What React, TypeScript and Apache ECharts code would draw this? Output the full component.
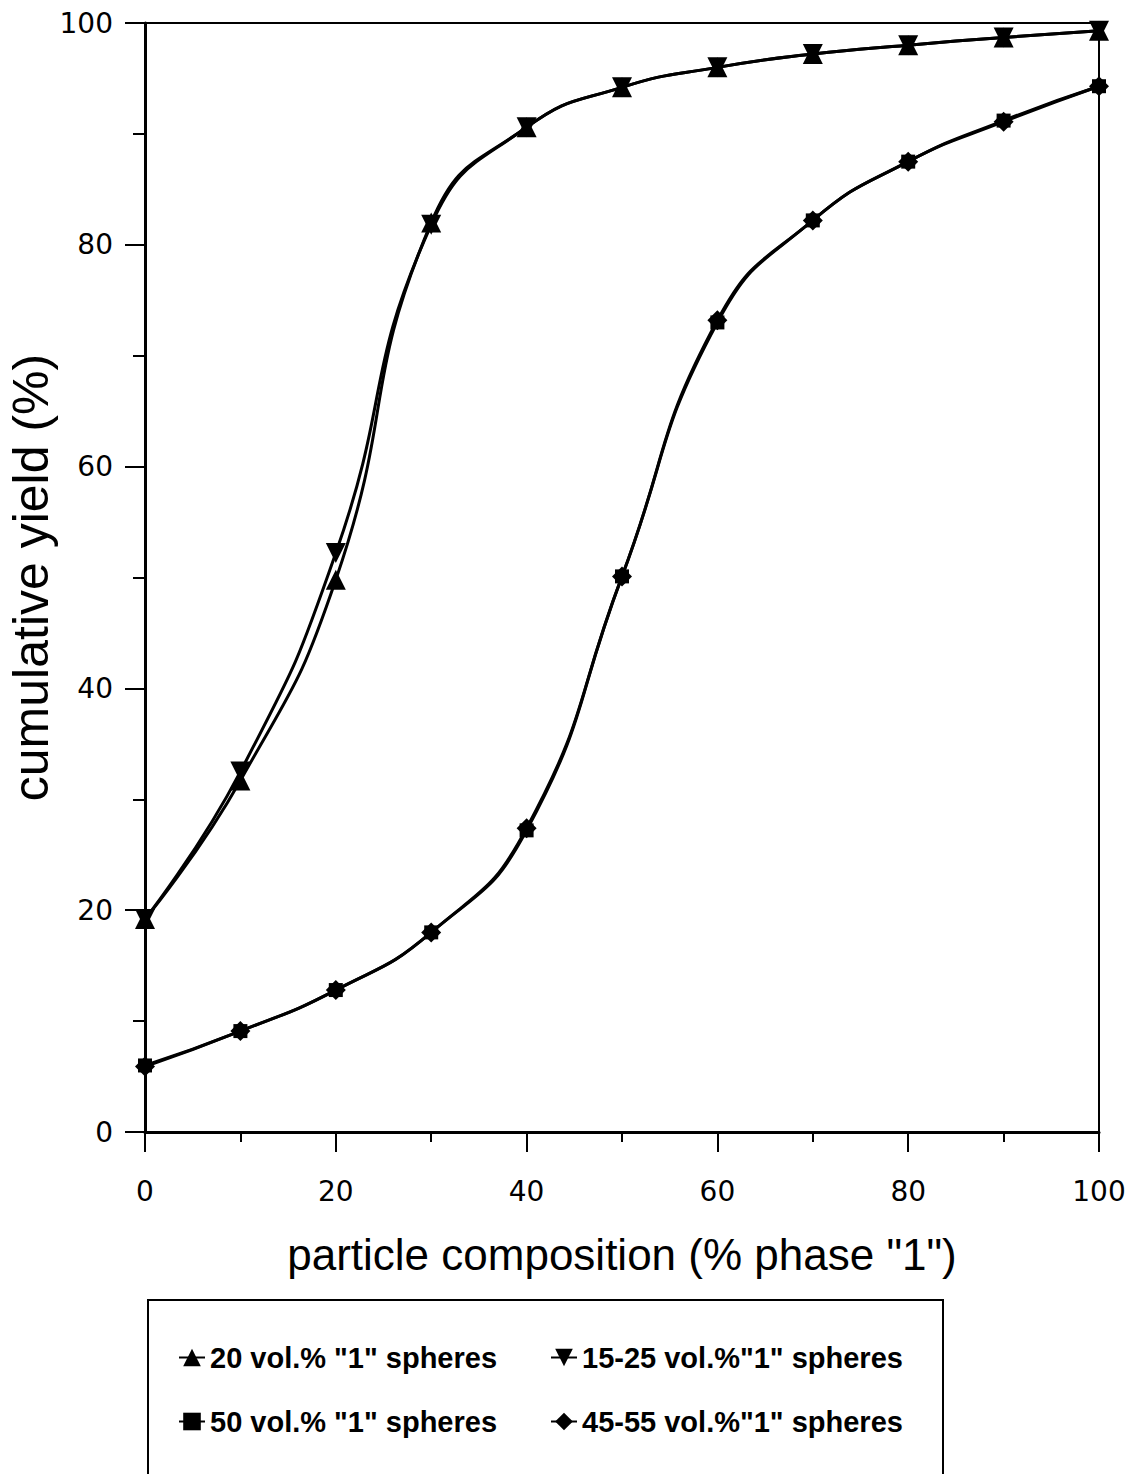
import React, { useEffect, useRef } from "react";
import * as echarts from "echarts";

const xValues = [0, 10, 20, 30, 40, 50, 60, 70, 80, 90, 100];
const yield20 = [19.2, 31.7, 49.8, 82.0, 90.6, 94.2, 96.0, 97.2, 98.0, 98.7, 99.3];
const yield15to25 = [19.2, 32.5, 52.2, 81.8, 90.6, 94.2, 96.0, 97.2, 98.0, 98.7, 99.3];
const yield50 = [6.0, 9.1, 12.8, 18.0, 27.2, 50.1, 73.0, 82.2, 87.5, 91.2, 94.3];
const yield45to55 = [5.9, 9.1, 12.8, 18.0, 27.4, 50.1, 73.2, 82.2, 87.5, 91.1, 94.3];

const seriesNames = [
  '20 vol.% "1" spheres',
  '15-25 vol.%"1" spheres',
  '50 vol.% "1" spheres',
  '45-55 vol.%"1" spheres',
];

const pairs = (ys: number[]) => xValues.map((x, i) => [x, ys[i]]);

export default function App() {
  const ref = useRef<HTMLDivElement>(null);
  useEffect(() => {
    document.body.style.margin = "0";
    const chart = echarts.init(ref.current!, null, { renderer: "svg" });
    const axisFont = "DejaVu Sans";
    const titleFont = "Liberation Sans";
    const lineBase = {
      type: "line" as const,
      smooth: 0.5,
      lineStyle: { color: "#000", width: 3 },
      itemStyle: { color: "#000" },
      z: 3,
    };
    const legendText = {
      color: "#000",
      fontFamily: titleFont,
      fontSize: 29,
      fontWeight: "bold" as const,
    };
    const legendCommon = {
      itemWidth: 26,
      itemHeight: 22,
      itemGap: 4,
      textStyle: legendText,
      selectedMode: false,
      padding: 0,
    };
    chart.setOption({
      animation: false,
      backgroundColor: "#fff",
      grid: {
        left: 145,
        right: 32,
        top: 23,
        bottom: 342,
        show: true,
        borderColor: "#000",
        borderWidth: 2,
        backgroundColor: "transparent",
        containLabel: false,
        outerBoundsMode: "none",
      },
      xAxis: {
        type: "value",
        min: 0,
        max: 100,
        interval: 20,
        name: 'particle composition (% phase "1")',
        nameLocation: "middle",
        nameGap: 100,
        nameMoveOverlap: false,
        nameTextStyle: { color: "#000", fontFamily: titleFont, fontSize: 44 },
        axisLine: { lineStyle: { color: "#000", width: 3 } },
        axisTick: { show: true, length: 20, lineStyle: { color: "#000", width: 2 } },
        minorTick: { show: true, splitNumber: 2, length: 10, lineStyle: { color: "#000", width: 2 } },
        axisLabel: { color: "#000", fontFamily: axisFont, fontSize: 28, margin: 45 },
        splitLine: { show: false },
      },
      yAxis: {
        type: "value",
        min: 0,
        max: 100,
        interval: 20,
        name: "cumulative yield (%)",
        nameLocation: "middle",
        nameGap: 89,
        nameMoveOverlap: false,
        nameTextStyle: { color: "#000", fontFamily: titleFont, fontSize: 50 },
        axisLine: { lineStyle: { color: "#000", width: 3 } },
        axisTick: { show: true, length: 20, lineStyle: { color: "#000", width: 2 } },
        minorTick: { show: true, splitNumber: 2, length: 12, lineStyle: { color: "#000", width: 2 } },
        axisLabel: { color: "#000", fontFamily: axisFont, fontSize: 28, margin: 32 },
        splitLine: { show: false },
      },
      legend: [
        { ...legendCommon, data: [seriesNames[0]], left: 178, top: 1343 },
        { ...legendCommon, data: [seriesNames[1]], left: 550, top: 1343 },
        { ...legendCommon, data: [seriesNames[2]], left: 178, top: 1407 },
        { ...legendCommon, data: [seriesNames[3]], left: 550, top: 1407 },
      ],
      graphic: [
        {
          type: "rect",
          shape: { x: 148, y: 1300, width: 795, height: 200 },
          style: { fill: "none", stroke: "#000", lineWidth: 2 },
          silent: true,
        },
      ],
      series: [
        { ...lineBase, name: seriesNames[0], data: pairs(yield20), symbol: "triangle", symbolSize: 20 },
        {
          ...lineBase,
          name: seriesNames[1],
          data: pairs(yield15to25),
          symbol: "triangle",
          symbolRotate: 180,
          symbolSize: 20,
        },
        { ...lineBase, name: seriesNames[2], data: pairs(yield50), symbol: "rect", symbolSize: 14 },
        { ...lineBase, name: seriesNames[3], data: pairs(yield45to55), symbol: "diamond", symbolSize: 20 },
      ],
    });
    return () => chart.dispose();
  }, []);
  return <div ref={ref} style={{ width: 1131, height: 1474 }} />;
}
